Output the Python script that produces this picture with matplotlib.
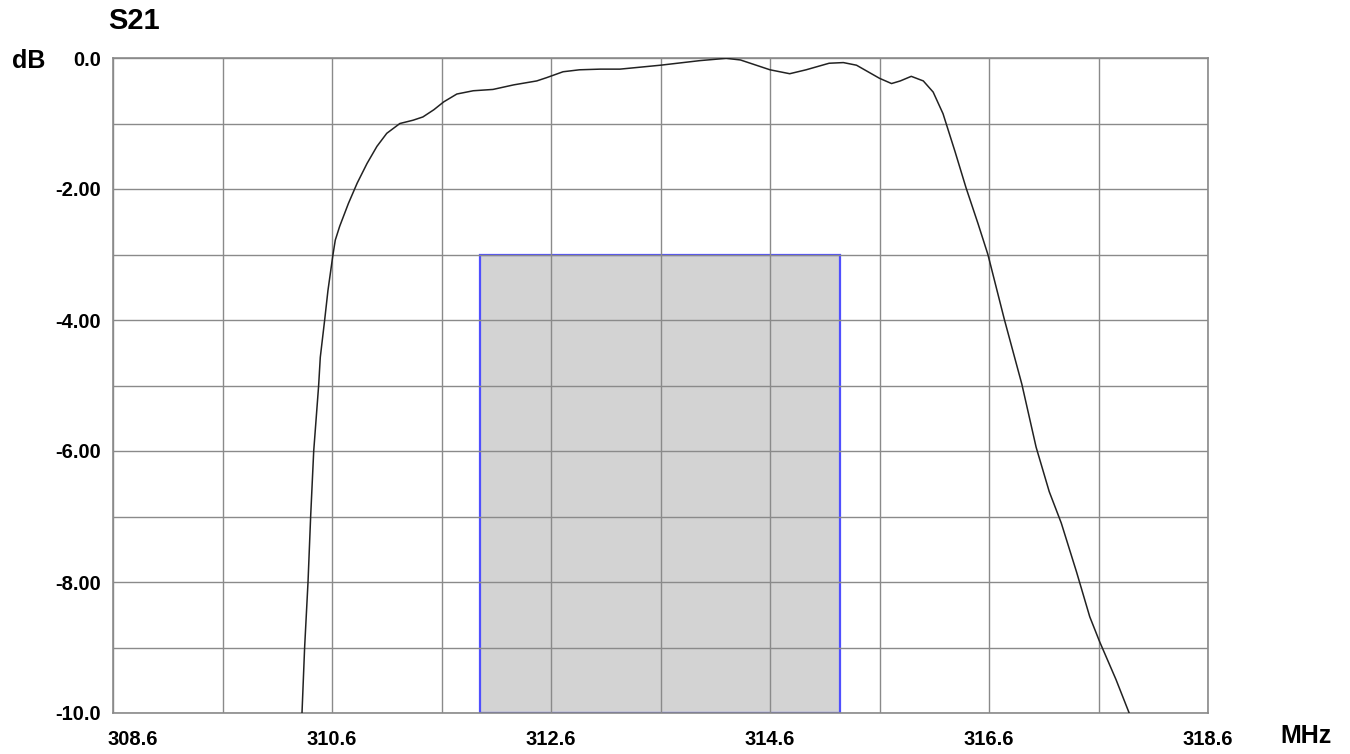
import numpy as np
import matplotlib
matplotlib.use("Agg")
import matplotlib.pyplot as plt
import matplotlib.patches as patches
import matplotlib.transforms as mtransforms

plt.rcParams['font.family'] = ['Liberation Sans', 'DejaVu Sans']
plt.rcParams['font.weight'] = 'bold'

# S21 trace (MHz, dB)
freq = [310.326, 310.35, 310.381, 310.405, 310.433, 310.478, 310.493, 310.533,
        310.563, 310.609, 310.63, 310.67, 310.75, 310.83, 310.92, 311.01,
        311.10, 311.22, 311.34, 311.43, 311.53, 311.62, 311.74, 311.89,
        312.07, 312.26, 312.47, 312.56, 312.71, 312.86, 313.05, 313.23,
        313.60, 313.96, 314.20, 314.33, 314.60, 314.78, 314.93, 315.14,
        315.27, 315.39, 315.60, 315.71, 315.79, 315.89, 316.00, 316.09,
        316.18, 316.29, 316.39, 316.50, 316.59, 316.74, 316.90, 317.03,
        317.15, 317.26, 317.40, 317.52, 317.61, 317.76, 317.88]
s21 = [-10.0, -9.0, -8.0, -7.0, -6.0, -5.0, -4.57, -4.0,
       -3.55, -3.0, -2.78, -2.57, -2.22, -1.91, -1.61, -1.35,
       -1.15, -1.00, -0.95, -0.90, -0.79, -0.67, -0.55, -0.50,
       -0.48, -0.41, -0.35, -0.30, -0.21, -0.18, -0.17, -0.17,
       -0.11, -0.04, -0.005, -0.03, -0.18, -0.24, -0.18, -0.08,
       -0.07, -0.11, -0.31, -0.39, -0.35, -0.28, -0.35, -0.52,
       -0.85, -1.43, -1.98, -2.53, -3.00, -3.99, -4.98, -5.94,
       -6.62, -7.10, -7.85, -8.53, -8.91, -9.49, -10.0]

# spec mask (grey box)
mask_lo, mask_hi = 311.95, 315.24
mask_top, mask_bottom = -3.0, -10.0

x_ticks = [308.6 + i for i in range(11)]
x_labels = ['308.6', '', '310.6', '', '312.6', '', '314.6', '', '316.6', '', '318.6']
y_ticks = [0.0 - i for i in range(11)]
y_labels = ['0.0', '', '-2.00', '', '-4.00', '', '-6.00', '', '-8.00', '', '-10.0']

fig = plt.figure(figsize=(13.5, 7.54), dpi=100)
ax = fig.add_axes([113 / 1350, 1 - 713 / 754, (1208 - 113) / 1350, (713 - 58) / 754])

rect = patches.Rectangle((mask_lo, mask_bottom), mask_hi - mask_lo, mask_top - mask_bottom,
                         facecolor='#d3d3d3', edgecolor='#4f4fff', linewidth=1.6, zorder=1)
ax.add_patch(rect)

ax.plot(freq, s21, color='#222222', linewidth=1.1, zorder=3)

ax.set_xlim(308.6, 318.6)
ax.set_ylim(-10, 0)
ax.set_xticks(x_ticks)
ax.set_xticklabels(x_labels)
ax.set_yticks(y_ticks)
ax.set_yticklabels(y_labels)
ax.tick_params(length=0, labelsize=14.5)
ax.tick_params(axis='x', pad=12)
ax.tick_params(axis='y', pad=8.5)
ax.set_axisbelow(False)
ax.grid(True, color='#8a8a8a', linewidth=1.0)
for sp in ax.spines.values():
    sp.set_color('#8a8a8a')
    sp.set_linewidth(1.2)

# first x label sits a bit right of its grid line
off = mtransforms.ScaledTranslation(20 / 100, 0, fig.dpi_scale_trans)
lbl0 = ax.get_xticklabels()[0]
lbl0.set_transform(lbl0.get_transform() + off)

fig.text(134 / 1350, 1 - 21 / 754, 'S21', fontsize=21, fontweight='bold', ha='center', va='center')
fig.text(12 / 1350, 1 - 61 / 754, 'dB', fontsize=18, fontweight='bold', ha='left', va='center')
fig.text(1306 / 1350, 1 - 736 / 754, 'MHz', fontsize=18, fontweight='bold', ha='center', va='center')

fig.savefig('out.png', dpi=100)
